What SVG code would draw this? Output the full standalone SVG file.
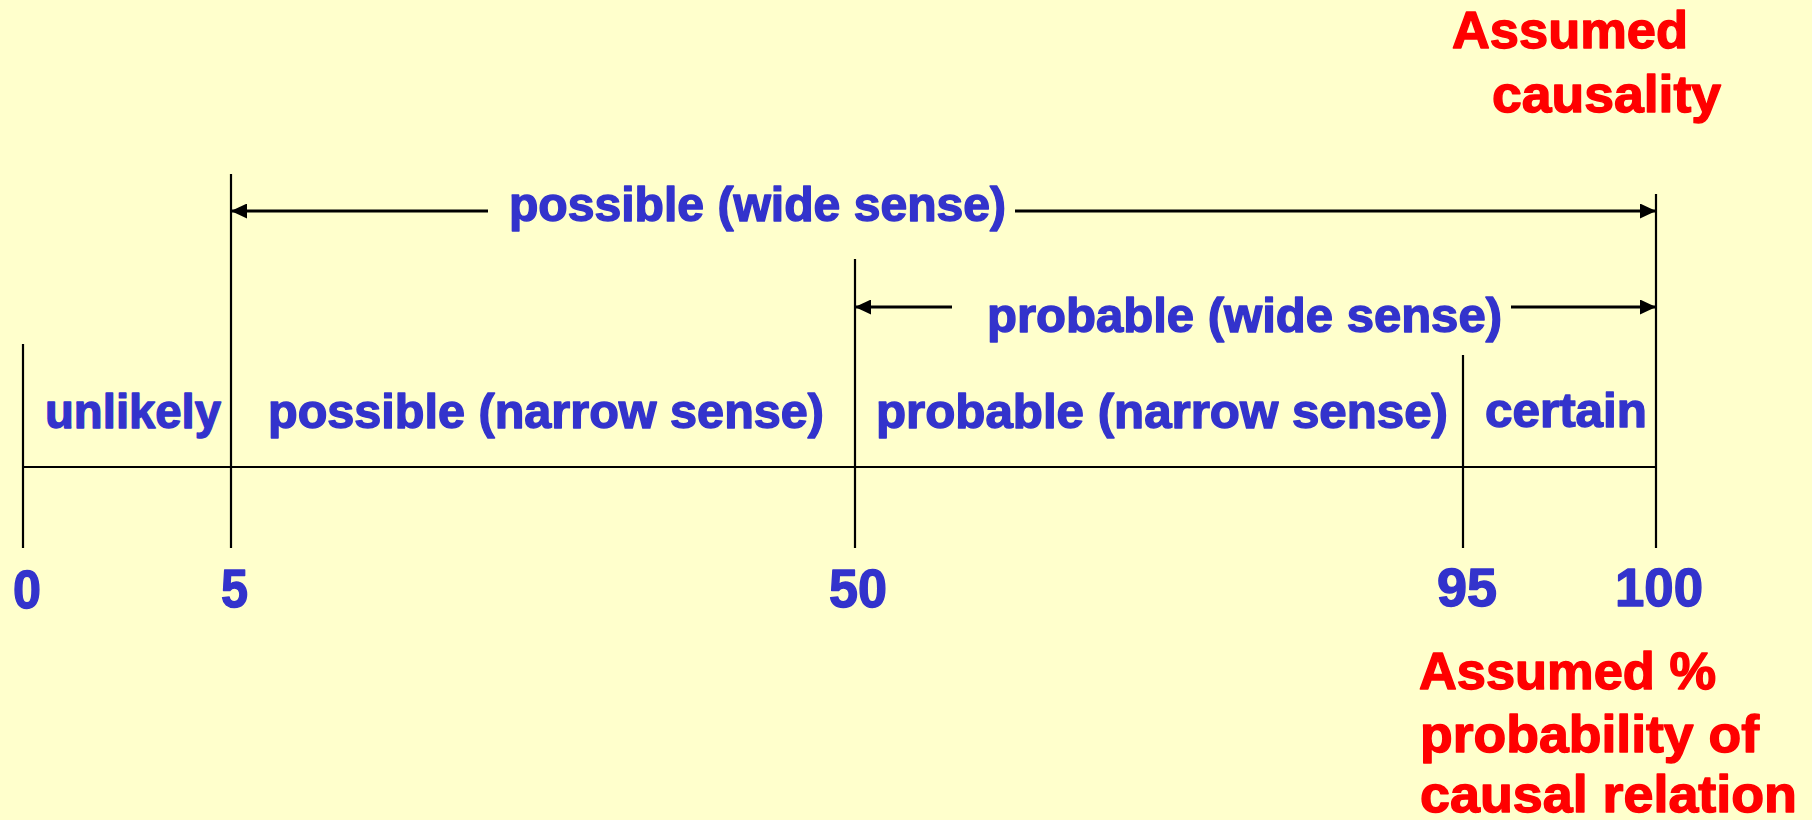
<svg xmlns="http://www.w3.org/2000/svg" width="1812" height="820" viewBox="0 0 1812 820">
  <style>
    .ln { stroke: #000000; stroke-width: 2.2; fill: none; }
    .arr { stroke: #000000; stroke-width: 2.8; fill: none; marker-end: url(#ah); }
    .lbl { font-family: "Liberation Sans", Arial, sans-serif; font-weight: bold; font-size: 48px; fill: #3333CC; stroke: #3333CC; stroke-width: 1.4; stroke-linejoin: round; }
    .num { font-family: "Liberation Sans", Arial, sans-serif; font-weight: bold; font-size: 53px; fill: #3333CC; stroke: #3333CC; stroke-width: 1.4; stroke-linejoin: round; }
    .red { font-family: "Liberation Sans", Arial, sans-serif; font-weight: bold; font-size: 52px; fill: #FF0000; stroke: #FF0000; stroke-width: 1.4; stroke-linejoin: round; }
  </style>
  <defs>
    <marker id="ah" markerUnits="userSpaceOnUse" markerWidth="17" markerHeight="15" refX="16" refY="7.5" orient="auto">
      <path d="M0,0 L16,7.5 L0,15 z" fill="#000000"/>
    </marker>
  </defs>
  <rect x="0" y="0" width="1812" height="820" fill="#FFFFCC"/>

  <g id="axis">
    <line class="ln" x1="23" y1="467" x2="1656" y2="467"/>
    <line class="ln" x1="23" y1="344" x2="23" y2="548"/>
    <line class="ln" x1="231" y1="174" x2="231" y2="548"/>
    <line class="ln" x1="855" y1="259" x2="855" y2="548"/>
    <line class="ln" x1="1463" y1="355" x2="1463" y2="548"/>
    <line class="ln" x1="1656" y1="194" x2="1656" y2="548"/>
  </g>

  <g id="connectors">
    <line class="arr" x1="488" y1="211" x2="231" y2="211"/>
    <line class="arr" x1="1015" y1="211" x2="1656" y2="211"/>
    <line class="arr" x1="952" y1="307" x2="855" y2="307"/>
    <line class="arr" x1="1511" y1="307" x2="1656" y2="307"/>
  </g>

  <g id="possible-wide"><text class="lbl" x="509" y="221" textLength="497" lengthAdjust="spacingAndGlyphs">possible (wide sense)</text></g>
  <g id="probable-wide"><text class="lbl" x="987" y="332" textLength="515" lengthAdjust="spacingAndGlyphs">probable (wide sense)</text></g>
  <g id="unlikely"><text class="lbl" x="45" y="428" textLength="176" lengthAdjust="spacingAndGlyphs">unlikely</text></g>
  <g id="possible-narrow"><text class="lbl" x="268" y="428" textLength="556" lengthAdjust="spacingAndGlyphs">possible (narrow sense)</text></g>
  <g id="probable-narrow"><text class="lbl" x="876" y="428" textLength="572" lengthAdjust="spacingAndGlyphs">probable (narrow sense)</text></g>
  <g id="certain"><text class="lbl" x="1485" y="427" textLength="162" lengthAdjust="spacingAndGlyphs">certain</text></g>

  <g id="tick-0"><text class="num" x="13" y="608" textLength="28" lengthAdjust="spacingAndGlyphs">0</text></g>
  <g id="tick-5"><text class="num" x="221" y="607" textLength="27" lengthAdjust="spacingAndGlyphs">5</text></g>
  <g id="tick-50"><text class="num" x="829" y="607" textLength="58" lengthAdjust="spacingAndGlyphs">50</text></g>
  <g id="tick-95"><text class="num" x="1437" y="606" textLength="60" lengthAdjust="spacingAndGlyphs">95</text></g>
  <g id="tick-100"><text class="num" x="1615" y="606" textLength="88" lengthAdjust="spacingAndGlyphs">100</text></g>

  <g id="assumed-causality">
    <text class="red" x="1452" y="48" textLength="236" lengthAdjust="spacingAndGlyphs">Assumed</text>
    <text class="red" x="1492" y="112" textLength="229" lengthAdjust="spacingAndGlyphs">causality</text>
  </g>
  <g id="assumed-probability">
    <text class="red" x="1419" y="689" textLength="297" lengthAdjust="spacingAndGlyphs">Assumed %</text>
    <text class="red" x="1420" y="752" textLength="339" lengthAdjust="spacingAndGlyphs">probability of</text>
    <text class="red" x="1420" y="812" textLength="377" lengthAdjust="spacingAndGlyphs">causal relation</text>
  </g>
</svg>
